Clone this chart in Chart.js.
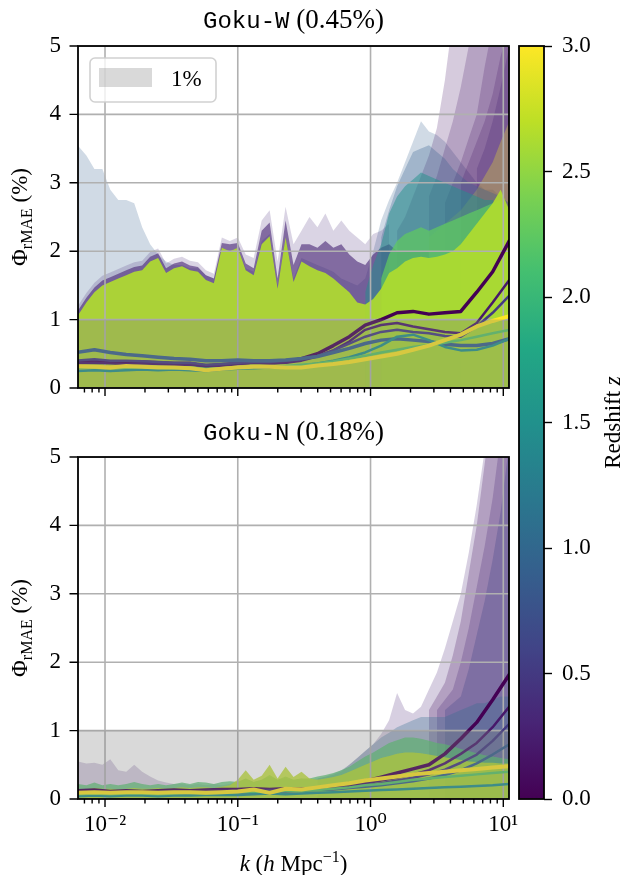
<!DOCTYPE html>
<html>
<head>
<meta charset="utf-8">
<script src="https://cdn.jsdelivr.net/npm/chart.js@4.4.1/dist/chart.umd.min.js"></script>
<style>
  body { margin: 0; background: #fff; }
  #wrap { position: relative; width: 623px; height: 875px; overflow: hidden; background: #fff; }
  canvas { position: absolute; }
</style>
</head>
<body>
<div id="wrap">
  <canvas id="gokuW" width="520" height="410" style="left:0;top:0"></canvas>
  <canvas id="gokuN" width="520" height="465" style="left:0;top:410px"></canvas>
  <canvas id="cbar" width="108" height="875" style="left:515px;top:0"></canvas>
</div>
<script>
// wavenumber grid (h/Mpc) for the error envelopes
const K = [0.0062, 0.00724, 0.00832, 0.00955, 0.01096, 0.01259, 0.01445, 0.0166, 0.01905, 0.02188,
  0.02512, 0.02884, 0.03311, 0.03802, 0.04365, 0.05012, 0.05754, 0.06607, 0.07586, 0.0871,
  0.1, 0.1148, 0.1318, 0.1514, 0.1738, 0.1995, 0.2291, 0.263, 0.302, 0.3467,
  0.3981, 0.4571, 0.5248, 0.6026, 0.6918, 0.7943, 0.912, 1.047, 1.202, 1.38,
  1.585, 1.82, 2.089, 2.399, 2.754, 3.162, 3.631, 4.169, 4.786, 5.495,
  6.31, 7.244, 8.318, 9.55, 11.1];
// coarser grid for the median curves
const K_LINE = [0.0062, 0.00832, 0.01096, 0.01445, 0.01905, 0.02512, 0.03311, 0.04365, 0.05754, 0.07586,
  0.1, 0.1318, 0.1738, 0.2291, 0.302, 0.3981, 0.5248, 0.6918, 0.912, 1.202,
  1.585, 2.089, 2.754, 3.631, 4.786, 6.31, 8.318, 11.1];

const K_MIN = 0.00626, K_MAX = 11.04;
const X_TICKS = [0.007, 0.008, 0.009, 0.01, 0.02, 0.03, 0.04, 0.05, 0.06, 0.07, 0.08, 0.09,
  0.1, 0.2, 0.3, 0.4, 0.5, 0.6, 0.7, 0.8, 0.9, 1, 2, 3, 4, 5, 6, 7, 8, 9, 10];
const MAJOR_K = [0.01, 0.1, 1, 10];
const X_LABELS = { 0.01: '10⁻²', 0.1: '10⁻¹', 1: '10⁰', 10: '10¹' };
const Y_TICKS = [0, 1, 2, 3, 4, 5];
const BAND_LEVEL = 1;
const Z_MAX = 3;
const LINE_Z = [0, 0.2, 0.5, 0.9, 1.5, 2.2, 3.0];

// ---- Goku-W envelopes (upper edge, filled down to 0) ----
const W_BLUE = [3.55, 3.4, 3.2, 3.2, 2.9, 2.75, 2.75, 2.7, 2.35, 2.1,
  1.95, 1.85, 1.8, 1.8, 1.75, 1.75, 1.65, 1.6, 2.05, 2.0,
  2.05, 1.75, 1.7, 2.15, 2.25, 1.5, 2.2, 1.6, 1.9, 1.85,
  1.8, 1.75, 1.7, 1.6, 1.55, 1.5, 1.6, 2.0, 2.45, 2.75,
  3.0, 3.3, 3.6, 3.9, 3.75, 3.7, 3.6, 3.45, 3.3, 3.15,
  3.0, 2.9, 2.9, 2.8, 2.7];
const W_PURPLE_PALE = [1.19, 1.39, 1.54, 1.64, 1.69, 1.74, 1.79, 1.84, 1.86, 1.99,
  2.04, 1.82, 1.89, 1.92, 1.86, 1.84, 1.72, 1.67, 2.2, 2.15,
  2.2, 1.95, 1.9, 2.45, 2.6, 1.85, 2.65, 2.1, 2.3, 2.5,
  2.35, 2.55, 2.3, 2.45, 2.3, 2.2, 2.1, 2.25, 2.3, 2.4];
const W_RAMP1 = [2.3, 2.5, 2.8, 3.1, 3.4, 3.8, 4.5, 5.4, 6.2, 6.8, 7.2, 7.6, 8.0, 8.4, 8.8];   // from K[40]
const W_RAMP2 = [2.8, 3.1, 3.5, 3.9, 4.4, 5.0, 5.6, 6.2, 6.8, 7.3, 7.8];                      // from K[44]
const W_RAMP3 = [2.7, 3.0, 3.3, 3.65, 4.0, 4.7, 5.3, 5.9, 6.5];                               // from K[46]
const W_RAMP4 = [3.0, 3.3, 3.6, 3.9, 4.3, 4.85, 5.3];                                         // from K[48]
const W_RAMP5 = [3.2, 3.5, 3.9, 4.4, 5.0];                                                    // from K[50]
const W_YELLOW = [2.2, 2.3, 2.4, 2.5, 2.6, 2.75, 2.9, 3.1, 3.3, 3.6, 3.9];                    // from K[44]
const W_BLUE2 = [2.2, 2.6, 2.95, 3.2, 3.45, 3.5, 3.55, 3.45, 3.35, 3.2, 3.1, 3.0, 2.95, 2.9, 2.85, 2.8, 2.7]; // from K[38]
const W_PURPLE_MID = [1.12, 1.32, 1.47, 1.57, 1.62, 1.67, 1.72, 1.77, 1.79, 1.92,
  1.97, 1.75, 1.82, 1.85, 1.79, 1.77, 1.65, 1.6, 2.12, 2.1,
  2.12, 1.82, 1.75, 2.3, 2.42, 1.6, 2.45, 1.8, 2.1, 2.1,
  2.05, 2.15, 2.05, 2.1, 1.95, 1.85, 1.8, 1.95, 2.05, 2.1,
  2.0, 2.0, 2.0, 2.0, 2.0];
const W_TEAL = [1.4, 1.8, 2.1, 2.55, 2.8, 2.95, 3.05, 3.15, 3.1, 3.05, 3.0, 2.95, 2.9, 2.85, 2.8, 2.75, 2.75, 2.6, 2.4]; // from K[36]
const W_GREEN = [1.6, 1.95, 2.15, 2.25, 2.3, 2.35, 2.3, 2.35, 2.4, 2.45, 2.5, 2.55, 2.6, 2.65, 2.7, 2.75, 2.55];        // from K[38]
const W_LIME = [1.05, 1.25, 1.4, 1.5, 1.55, 1.6, 1.65, 1.7, 1.72, 1.85,
  1.9, 1.68, 1.75, 1.78, 1.72, 1.7, 1.58, 1.53, 2.05, 2.0,
  2.05, 1.72, 1.65, 2.1, 2.22, 1.45, 2.2, 1.55, 1.85, 1.78,
  1.72, 1.68, 1.6, 1.5, 1.4, 1.25, 1.22, 1.3, 1.45, 1.68,
  1.75, 1.85, 1.9, 1.92, 1.9, 1.92, 1.95, 2.0, 2.1, 2.25,
  2.4, 2.55, 2.7, 2.9, 2.6];

// ---- Goku-W median curves (on K_LINE) ----
const LW_Z0 = [0.38, 0.39, 0.38, 0.37, 0.38, 0.37, 0.36, 0.36, 0.32, 0.34,
  0.36, 0.38, 0.37, 0.38, 0.43, 0.5, 0.62, 0.75, 0.92, 1.0,
  1.1, 1.12, 1.08, 1.1, 1.12, 1.4, 1.7, 2.15];
const LW_Z02 = [0.36, 0.37, 0.36, 0.35, 0.36, 0.35, 0.34, 0.34, 0.31, 0.33,
  0.35, 0.37, 0.36, 0.37, 0.4, 0.46, 0.55, 0.68, 0.85, 0.92,
  0.95, 0.9, 0.86, 0.82, 0.8, 0.95, 1.25, 1.58];
const LW_Z05 = [0.4, 0.42, 0.4, 0.4, 0.39, 0.38, 0.37, 0.37, 0.34, 0.35,
  0.37, 0.38, 0.38, 0.4, 0.42, 0.47, 0.55, 0.65, 0.75, 0.82,
  0.85, 0.82, 0.8, 0.76, 0.75, 0.9, 1.1, 1.35];
const LW_Z09 = [0.52, 0.56, 0.52, 0.49, 0.47, 0.45, 0.43, 0.42, 0.4, 0.4,
  0.41, 0.4, 0.4, 0.41, 0.43, 0.46, 0.52, 0.58, 0.65, 0.7,
  0.72, 0.7, 0.68, 0.64, 0.62, 0.62, 0.65, 0.72];
const LW_Z15 = [0.25, 0.26, 0.25, 0.26, 0.27, 0.26, 0.27, 0.26, 0.25, 0.27,
  0.28, 0.29, 0.3, 0.31, 0.33, 0.36, 0.4, 0.45, 0.52, 0.62,
  0.75, 0.78, 0.7, 0.6, 0.55, 0.56, 0.62, 0.72];
const LW_Z22 = [0.3, 0.31, 0.3, 0.3, 0.31, 0.3, 0.29, 0.3, 0.28, 0.29,
  0.3, 0.31, 0.31, 0.32, 0.34, 0.36, 0.39, 0.43, 0.47, 0.52,
  0.56, 0.6, 0.63, 0.66, 0.7, 0.75, 0.8, 0.85];
const LW_Z3 = [0.32, 0.31, 0.3, 0.32, 0.31, 0.3, 0.3, 0.29, 0.26, 0.28,
  0.3, 0.31, 0.31, 0.3, 0.3, 0.33, 0.35, 0.38, 0.42, 0.46,
  0.5, 0.56, 0.62, 0.7, 0.78, 0.9, 0.98, 1.05];

// ---- Goku-N envelopes ----
const N_PALE = [0.55, 0.52, 0.53, 0.5, 0.58, 0.42, 0.4, 0.5, 0.4, 0.33,
  0.27, 0.24, 0.22, 0.22, 0.2, 0.22, 0.2, 0.22, 0.2, 0.22,
  0.25, 0.3, 0.25, 0.28, 0.32, 0.28, 0.3, 0.28, 0.3, 0.28,
  0.3, 0.32, 0.35, 0.4, 0.5, 0.6, 0.7, 0.8, 0.95, 1.15,
  1.55, 1.3, 1.25, 1.35, 1.6, 1.85, 2.2, 2.6, 3.0, 3.6,
  4.3, 5.1, 6.0, 7.0, 8.0];
const N_RAMP2 = [1.3, 1.5, 1.7, 2.1, 2.6, 3.3, 4.0, 4.9, 5.8, 6.7, 7.5];   // from K[44]
const N_RAMP3 = [1.3, 1.45, 1.6, 2.0, 2.5, 3.1, 3.7, 4.4, 5.3, 6.2];       // from K[45]
const N_RAMP4 = [1.3, 1.4, 1.5, 1.9, 2.4, 2.9, 3.5, 4.2, 5.2];             // from K[46]
const N_BLUE = [0.3, 0.33, 0.37, 0.42, 0.5, 0.6, 0.7, 0.8, 0.9, 0.97,
  1.05, 1.1, 1.15, 1.2, 1.2, 1.2, 1.2, 1.25, 1.3, 1.35, 1.4, 1.4, 1.45, 1.5, 1.5]; // from K[30]
const N_GREEN = [0.22, 0.2, 0.24, 0.2, 0.22, 0.2, 0.22, 0.25, 0.22, 0.2,
  0.22, 0.2, 0.22, 0.24, 0.22, 0.25, 0.24, 0.22, 0.25, 0.26,
  0.25, 0.3, 0.25, 0.28, 0.35, 0.28, 0.33, 0.28, 0.3, 0.3,
  0.33, 0.35, 0.38, 0.42, 0.47, 0.55, 0.62, 0.68, 0.75, 0.82,
  0.86, 0.9, 0.9, 0.88, 0.85, 0.82, 0.8, 0.77, 0.73, 0.7,
  0.67, 0.64, 0.62, 0.6, 0.58];
const N_LIME = [0.15, 0.14, 0.16, 0.15, 0.15, 0.14, 0.15, 0.16, 0.15, 0.15,
  0.16, 0.15, 0.16, 0.17, 0.16, 0.17, 0.17, 0.16, 0.18, 0.2,
  0.28, 0.42, 0.28, 0.34, 0.5, 0.3, 0.47, 0.32, 0.4, 0.3,
  0.28, 0.3, 0.32, 0.35, 0.4, 0.45, 0.5, 0.55, 0.6, 0.63,
  0.66, 0.68, 0.68, 0.67, 0.65, 0.63, 0.61, 0.59, 0.57, 0.55,
  0.54, 0.53, 0.53, 0.52, 0.52];

// ---- Goku-N median curves ----
const LN_Z0 = [0.12, 0.13, 0.11, 0.12, 0.11, 0.12, 0.13, 0.12, 0.13, 0.14,
  0.14, 0.15, 0.14, 0.15, 0.14, 0.15, 0.16, 0.2, 0.26, 0.32,
  0.38, 0.44, 0.5, 0.66, 0.88, 1.12, 1.45, 1.82];
const LN_Z02 = [0.1, 0.11, 0.1, 0.11, 0.1, 0.11, 0.12, 0.11, 0.12, 0.12,
  0.13, 0.13, 0.14, 0.14, 0.15, 0.16, 0.17, 0.19, 0.23, 0.27,
  0.31, 0.36, 0.42, 0.52, 0.66, 0.82, 1.05, 1.35];
const LN_Z05 = [0.08, 0.09, 0.08, 0.09, 0.08, 0.09, 0.1, 0.09, 0.1, 0.1,
  0.11, 0.11, 0.12, 0.12, 0.13, 0.14, 0.15, 0.17, 0.2, 0.23,
  0.27, 0.31, 0.36, 0.43, 0.53, 0.65, 0.85, 1.1];
const LN_Z09 = [0.06, 0.07, 0.06, 0.07, 0.07, 0.06, 0.07, 0.08, 0.08, 0.08,
  0.09, 0.1, 0.1, 0.11, 0.12, 0.13, 0.14, 0.16, 0.18, 0.2,
  0.23, 0.26, 0.3, 0.35, 0.42, 0.52, 0.65, 0.8];
const LN_Z15 = [0.04, 0.05, 0.04, 0.05, 0.05, 0.04, 0.05, 0.05, 0.06, 0.06,
  0.06, 0.07, 0.08, 0.07, 0.08, 0.09, 0.1, 0.11, 0.12, 0.13,
  0.14, 0.15, 0.16, 0.17, 0.18, 0.19, 0.2, 0.22];
const LN_Z22 = [0.07, 0.08, 0.07, 0.08, 0.08, 0.07, 0.08, 0.09, 0.08, 0.09,
  0.1, 0.11, 0.1, 0.12, 0.12, 0.13, 0.15, 0.17, 0.2, 0.22,
  0.25, 0.28, 0.3, 0.32, 0.34, 0.36, 0.38, 0.4];
const LN_Z3 = [0.09, 0.1, 0.09, 0.1, 0.1, 0.09, 0.1, 0.1, 0.09, 0.1,
  0.11, 0.14, 0.09, 0.15, 0.14, 0.17, 0.2, 0.23, 0.27, 0.3,
  0.33, 0.36, 0.38, 0.4, 0.42, 0.44, 0.46, 0.48];

// ---------------------------------------------------------------
const SERIF = '"Liberation Serif", "DejaVu Serif", serif';
const MONO = '"Liberation Mono", "DejaVu Sans Mono", monospace';
const TICK_FONT = { family: SERIF, size: 23 };
const BAND_COLOR = 'rgba(128,128,128,0.3)';
const GRID_COLOR = '#b0b0b0';
const VIRIDIS = ['#440154', '#482475', '#414487', '#355f8d', '#2a788e', '#21918c',
  '#22a884', '#44bf70', '#7ad151', '#bddf26', '#fde725'];

function hexRgb(h) {
  return [1, 3, 5].map(i => parseInt(h.slice(i, i + 2), 16));
}
function viridis(t, a = 1) {
  const s = Math.min(Math.max(t, 0), 1) * (VIRIDIS.length - 1);
  const i = Math.min(Math.floor(s), VIRIDIS.length - 2), f = s - i;
  const c0 = hexRgb(VIRIDIS[i]), c1 = hexRgb(VIRIDIS[i + 1]);
  const c = c0.map((v, k) => Math.round(v + (c1[k] - v) * f));
  return `rgba(${c[0]},${c[1]},${c[2]},${a})`;
}

const pts = (ks, vals, start = 0) => vals.map((v, i) => ({ x: ks[start + i], y: v }));

function envelope(vals, start, color) {
  return {
    data: pts(K, vals, start), fill: 'origin', backgroundColor: color,
    borderColor: 'rgba(0,0,0,0)', borderWidth: 0, pointRadius: 0
  };
}
function median(vals, z, width) {
  return {
    data: pts(K_LINE, vals), fill: false, borderColor: viridis(z / Z_MAX),
    borderWidth: width, pointRadius: 0, borderJoinStyle: 'round', borderCapStyle: 'round'
  };
}
function panelDatasets(fills, lines) {
  const ds = [];
  fills.forEach((f, i) => ds.push(Object.assign(f, { order: 100 - i })));
  ds[ds.length - 1].gridAbove = true;
  lines.forEach((l, i) => ds.push(Object.assign(l, { order: 50 - i })));
  ds.push({
    data: [{ x: K[0], y: BAND_LEVEL }, { x: K[K.length - 1], y: BAND_LEVEL }],
    fill: 'origin', backgroundColor: BAND_COLOR, borderColor: 'rgba(0,0,0,0)',
    borderWidth: 0, pointRadius: 0, order: 0
  });
  return ds;
}

function drawRuns(ctx, runs, x, y) {
  let w = 0;
  runs.forEach(r => { ctx.font = r.font; w += ctx.measureText(r.t).width; });
  let cx = x - w / 2;
  ctx.textAlign = 'left';
  ctx.textBaseline = 'alphabetic';
  runs.forEach(r => {
    ctx.font = r.font;
    ctx.fillText(r.t, cx, y + (r.dy || 0));
    cx += ctx.measureText(r.t).width;
  });
}

function drawGrid(chart) {
  const { ctx, chartArea: a, scales: { x, y } } = chart;
  ctx.save();
  ctx.beginPath();
  ctx.rect(a.left, a.top, a.right - a.left, a.bottom - a.top);
  ctx.clip();
  ctx.strokeStyle = GRID_COLOR;
  ctx.lineWidth = 1.6;
  ctx.beginPath();
  MAJOR_K.forEach(v => { const px = x.getPixelForValue(v); ctx.moveTo(px, a.top); ctx.lineTo(px, a.bottom); });
  Y_TICKS.forEach(v => { const py = y.getPixelForValue(v); ctx.moveTo(a.left, py); ctx.lineTo(a.right, py); });
  ctx.stroke();
  ctx.restore();
}

const decor = {
  id: 'decor',
  afterDatasetDraw(chart, args) {
    if (chart.data.datasets[args.index].gridAbove) drawGrid(chart);
  },
  afterDraw(chart, args, opts) {
    const { ctx, chartArea: a, scales: { x, y } } = chart;
    ctx.save();
    ctx.strokeStyle = '#000';
    ctx.lineWidth = 1.4;
    ctx.beginPath();
    Y_TICKS.forEach(v => { const py = y.getPixelForValue(v); ctx.moveTo(a.left - 8.5, py); ctx.lineTo(a.left, py); });
    X_TICKS.forEach(v => {
      const px = x.getPixelForValue(v);
      const len = MAJOR_K.includes(v) ? 8 : 4.5;
      ctx.moveTo(px, a.bottom); ctx.lineTo(px, a.bottom + len);
    });
    ctx.stroke();
    ctx.lineWidth = 1.8;
    ctx.strokeRect(a.left, a.top, a.right - a.left, a.bottom - a.top);

    ctx.fillStyle = '#000';
    const cx = (a.left + a.right) / 2;
    drawRuns(ctx, [
      { t: opts.title[0], font: `24px ${MONO}` },
      { t: opts.title[1], font: `27px ${SERIF}` }
    ], cx, opts.titleY);

    ctx.save();
    ctx.translate(27, (a.top + a.bottom) / 2);
    ctx.rotate(-Math.PI / 2);
    drawRuns(ctx, [
      { t: 'Φ', font: `23px ${SERIF}` },
      { t: 'rMAE', font: `16px ${SERIF}`, dy: 5 },
      { t: ' (%)', font: `23px ${SERIF}` }
    ], 0, 0);
    ctx.restore();

    if (opts.xTitle) {
      drawRuns(ctx, [
        { t: 'k', font: `italic 23px ${SERIF}` },
        { t: ' (', font: `23px ${SERIF}` },
        { t: 'h', font: `italic 23px ${SERIF}` },
        { t: ' Mpc', font: `23px ${SERIF}` },
        { t: '−1', font: `16px ${SERIF}`, dy: -9 },
        { t: ')', font: `23px ${SERIF}` }
      ], cx, opts.xTitleY);
    }

    if (opts.legend) {
      const lx = a.left + 12, ly = a.top + 12;
      ctx.beginPath();
      ctx.roundRect(lx, ly, 126, 44, 5);
      ctx.fillStyle = 'rgba(255,255,255,0.8)';
      ctx.fill();
      ctx.strokeStyle = 'rgba(204,204,204,0.9)';
      ctx.lineWidth = 1.6;
      ctx.stroke();
      ctx.fillStyle = BAND_COLOR;
      ctx.fillRect(lx + 9, ly + 10, 53, 19);
      ctx.fillStyle = '#000';
      ctx.font = `23px ${SERIF}`;
      ctx.textAlign = 'left';
      ctx.textBaseline = 'alphabetic';
      ctx.fillText('1%', lx + 81, ly + 28);
    }
    ctx.restore();
  }
};

function panel(canvasId, datasets, cfg) {
  return new Chart(document.getElementById(canvasId), {
    type: 'line',
    data: { datasets },
    options: {
      responsive: false, animation: false, devicePixelRatio: 1, events: [],
      layout: { padding: { left: 0, right: 11, top: cfg.padTop, bottom: 0 } },
      plugins: { legend: { display: false }, tooltip: { enabled: false }, decor: cfg.decor },
      scales: {
        x: {
          type: 'logarithmic', min: K_MIN, max: K_MAX,
          afterBuildTicks: s => { s.ticks = X_TICKS.map(v => ({ value: v })); },
          afterFit: s => { s.height = cfg.xAxisH; s.paddingLeft = 0; s.paddingRight = 0; },
          grid: { display: false, drawTicks: false },
          border: { display: false },
          ticks: {
            display: cfg.xLabels, autoSkip: false, maxRotation: 0, minRotation: 0,
            padding: 12, color: '#000', font: TICK_FONT,
            callback: v => X_LABELS[v] || ''
          }
        },
        y: {
          min: 0, max: 5,
          afterFit: s => { s.width = 78; s.paddingTop = 0; s.paddingBottom = 0; },
          grid: { display: false, drawTicks: false },
          border: { display: false },
          ticks: { stepSize: 1, padding: 17, color: '#000', font: TICK_FONT }
        }
      }
    },
    plugins: [decor]
  });
}

const wFills = [
  envelope(W_BLUE, 0, viridis(0.3, 0.23)),
  envelope(W_PURPLE_PALE, 0, viridis(0.12, 0.2)),
  envelope(W_RAMP1, 40, viridis(0.05, 0.22)),
  envelope(W_RAMP2, 44, viridis(0.05, 0.22)),
  envelope(W_RAMP3, 46, viridis(0.05, 0.22)),
  envelope(W_RAMP4, 48, viridis(0.05, 0.22)),
  envelope(W_RAMP5, 50, viridis(0.1, 0.25)),
  envelope(W_YELLOW, 44, viridis(0.97, 0.3)),
  envelope(W_BLUE2, 38, viridis(0.3, 0.3)),
  envelope(W_PURPLE_MID, 0, viridis(0.1, 0.6)),
  envelope(W_TEAL, 36, viridis(0.5, 0.5)),
  envelope(W_GREEN, 38, viridis(0.75, 0.75)),
  envelope(W_LIME, 0, viridis(0.88, 0.92))
];
const wLines = [
  median(LW_Z0, LINE_Z[0], 3.5), median(LW_Z02, LINE_Z[1], 2.5), median(LW_Z05, LINE_Z[2], 2.5),
  median(LW_Z09, LINE_Z[3], 3.5), median(LW_Z15, LINE_Z[4], 2.5), median(LW_Z22, LINE_Z[5], 2.5),
  median(LW_Z3, LINE_Z[6], 4)
];
const nFills = [
  envelope(N_PALE, 0, viridis(0.1, 0.22)),
  envelope(N_RAMP2, 44, viridis(0.05, 0.25)),
  envelope(N_RAMP3, 45, viridis(0.1, 0.25)),
  envelope(N_RAMP4, 46, viridis(0.2, 0.3)),
  envelope(N_BLUE, 30, viridis(0.35, 0.3)),
  envelope(N_GREEN, 0, viridis(0.72, 0.7)),
  envelope(N_LIME, 0, viridis(0.9, 0.8))
];
const nLines = [
  median(LN_Z0, LINE_Z[0], 3.5), median(LN_Z02, LINE_Z[1], 2.5), median(LN_Z05, LINE_Z[2], 2.5),
  median(LN_Z09, LINE_Z[3], 2.5), median(LN_Z15, LINE_Z[4], 2.5), median(LN_Z22, LINE_Z[5], 2.5),
  median(LN_Z3, LINE_Z[6], 4)
];

panel('gokuW', panelDatasets(wFills, wLines), {
  padTop: 46, xAxisH: 22, xLabels: false,
  decor: { title: ['Goku-W', ' (0.45%)'], titleY: 28, legend: true, xTitle: false }
});
panel('gokuN', panelDatasets(nFills, nLines), {
  padTop: 47, xAxisH: 76, xLabels: true,
  decor: { title: ['Goku-N', ' (0.18%)'], titleY: 30, legend: false, xTitle: true, xTitleY: 461 }
});

// colour bar
const cbarDecor = {
  id: 'cbarDecor',
  afterDraw(chart) {
    const { ctx, chartArea: a } = chart;
    ctx.save();
    ctx.strokeStyle = '#000';
    ctx.lineWidth = 1.8;
    ctx.strokeRect(a.left, a.top, a.right - a.left, a.bottom - a.top);
    ctx.fillStyle = '#000';
    ctx.translate(105, (a.top + a.bottom) / 2);
    ctx.rotate(-Math.PI / 2);
    drawRuns(ctx, [
      { t: 'Redshift ', font: `23px ${SERIF}` },
      { t: 'z', font: `italic 23px ${SERIF}` }
    ], 0, 0);
    ctx.restore();
  }
};
new Chart(document.getElementById('cbar'), {
  type: 'bar',
  data: {
    labels: [''],
    datasets: [{
      data: [Z_MAX], borderWidth: 0, barPercentage: 1, categoryPercentage: 1,
      backgroundColor: c => {
        const a = c.chart.chartArea;
        if (!a) return VIRIDIS[0];
        const g = c.chart.ctx.createLinearGradient(0, a.bottom, 0, a.top);
        VIRIDIS.forEach((col, i) => g.addColorStop(i / (VIRIDIS.length - 1), col));
        return g;
      }
    }]
  },
  options: {
    responsive: false, animation: false, devicePixelRatio: 1, events: [],
    layout: { padding: { left: 4, right: 0, top: 46, bottom: 76 } },
    plugins: { legend: { display: false }, tooltip: { enabled: false } },
    scales: {
      x: { display: false },
      y: {
        position: 'right', min: 0, max: Z_MAX,
        afterFit: s => { s.width = 79; s.paddingTop = 0; s.paddingBottom = 0; },
        grid: { drawOnChartArea: false, drawTicks: true, tickLength: 8, tickColor: '#000', tickWidth: 1.4 },
        border: { display: false },
        ticks: { stepSize: 0.5, padding: 10, color: '#000', font: TICK_FONT, callback: v => v.toFixed(1) }
      }
    }
  },
  plugins: [cbarDecor]
});
</script>
</body>
</html>
